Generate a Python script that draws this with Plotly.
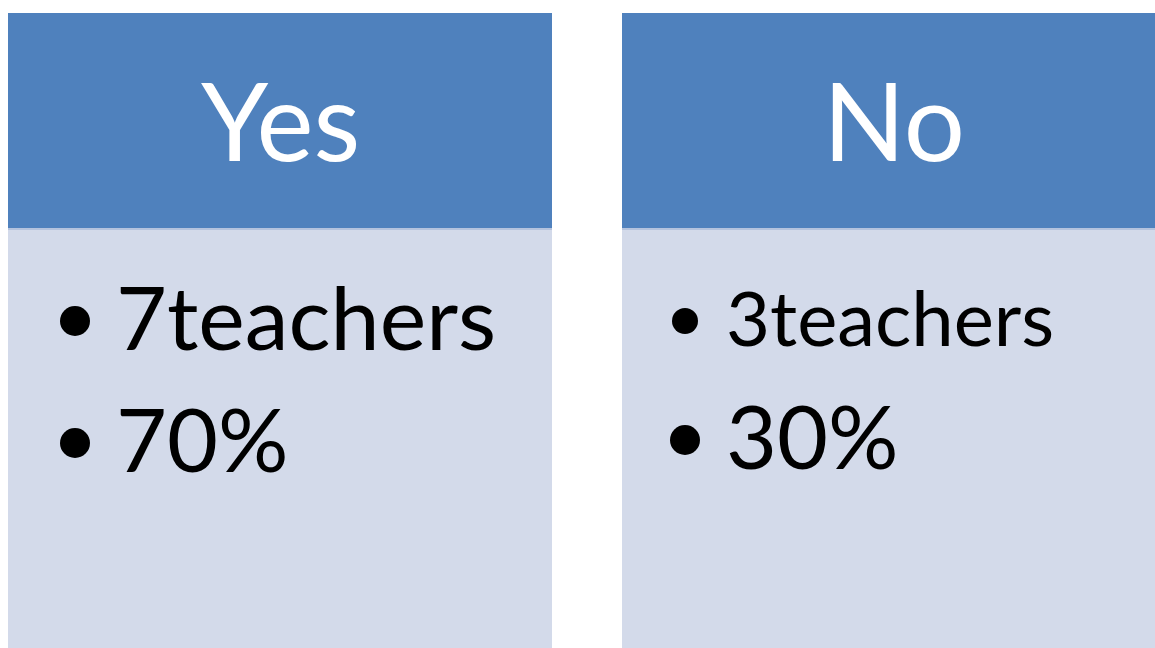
import plotly.graph_objects as go

categories = ["Yes", "No"]
teachers = [7, 3]
percents = [70, 30]

W, H = 1155, 648
panel_left0 = 8
panel_step = 614
panel_w = 544
top = 13
header_bottom = 228

# per-panel style tweaks (autofit text sizes and indents as in the original graphic)
line_font_sizes = [[88, 88], [76, 88]]
bullet_sizes = [[30, 30], [26, 30]]
indent = [0, -4]

header_color = "#4F81BD"
body_color = "#D3DAEA"
font_family = "Lato, 'Open Sans', sans-serif"

fig = go.Figure()
shapes = []
annotations = []
bx, by, bs = [], [], []
for i, cat in enumerate(categories):
    left = panel_left0 + i * panel_step
    right = left + panel_w
    shapes.append(dict(type="rect", xref="x", yref="y", x0=left, x1=right, y0=header_bottom, y1=H + 10,
                       fillcolor=body_color, line=dict(width=0), layer="below"))
    shapes.append(dict(type="rect", xref="x", yref="y", x0=left, x1=right, y0=top, y1=header_bottom,
                       fillcolor=header_color, line=dict(width=0), layer="below"))
    shapes.append(dict(type="line", xref="x", yref="y", x0=left, x1=right, y0=header_bottom + 1, y1=header_bottom + 1,
                       line=dict(color="#B4C3DE", width=2), layer="below"))
    annotations.append(dict(x=left + panel_w / 2, y=119, xref="x", yref="y", text=cat, showarrow=False,
                            xanchor="center", yanchor="middle",
                            font=dict(family=font_family, size=108, color="white")))
    lines = [f"{teachers[i]}teachers", f"{percents[i]}%"]
    for j, t in enumerate(lines):
        yc = 316 + j * 122 - (3 * i if j == 1 else 0)
        bx.append(left + 67 + indent[i])
        by.append(yc + 5)
        bs.append(bullet_sizes[i][j])
        annotations.append(dict(x=left + 106 + indent[i], y=yc, xref="x", yref="y", text=t, showarrow=False,
                                xanchor="left", yanchor="middle",
                                font=dict(family=font_family, size=line_font_sizes[i][j], color="black")))

fig.add_trace(go.Scatter(x=bx, y=by, mode="markers",
                         marker=dict(size=bs, color="black", opacity=1, line=dict(width=0)),
                         hoverinfo="skip", showlegend=False))

fig.update_layout(
    width=W, height=H, margin=dict(l=0, r=0, t=0, b=0),
    paper_bgcolor="white", plot_bgcolor="white",
    xaxis=dict(range=[0, W], visible=False, fixedrange=True),
    yaxis=dict(range=[H, 0], visible=False, fixedrange=True),
    shapes=shapes, annotations=annotations, showlegend=False,
)
fig.write_html("out.html", config={"displayModeBar": False},
               post_script="document.body.style.margin='0';document.body.style.overflow='hidden';")
